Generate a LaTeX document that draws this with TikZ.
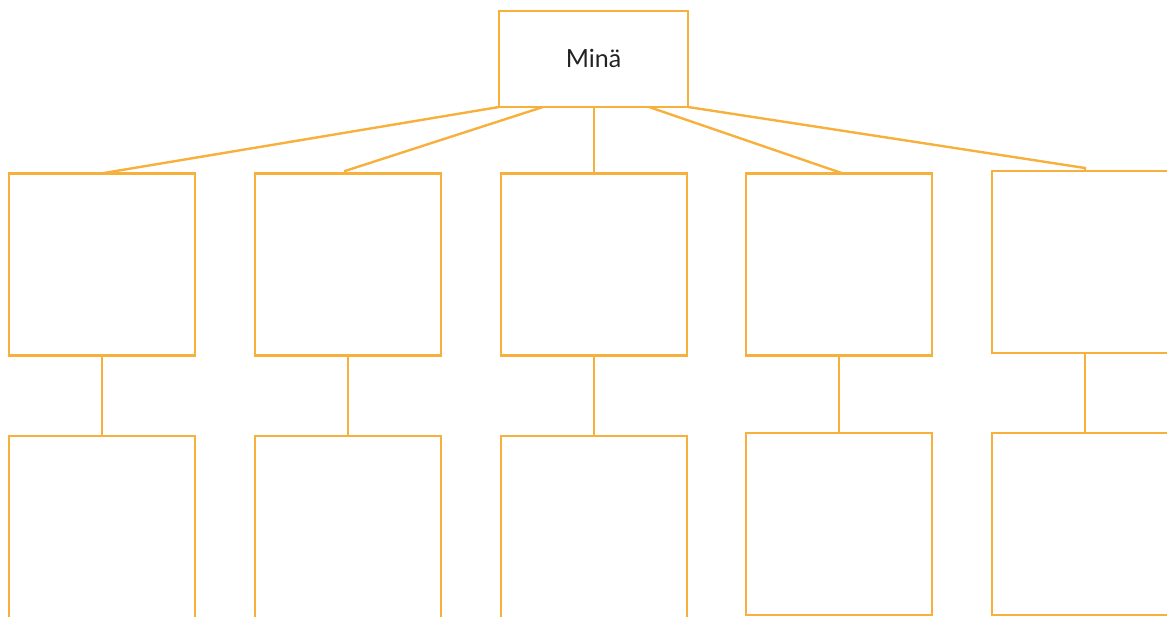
\documentclass[tikz,border=0pt]{standalone}
\usepackage{fontspec}
\setmainfont{Lato}
\definecolor{boxorange}{RGB}{248,176,60}
\definecolor{txtgray}{RGB}{34,34,34}
\begin{document}
\begin{tikzpicture}[x=1pt,y=-1pt,
  box/.style={draw=boxorange,line width=2.4pt,rectangle,inner sep=0pt,outer sep=0pt,minimum width=186pt,minimum height=182pt},
  topbox/.style={draw=boxorange,line width=2.4pt,rectangle,inner sep=0pt,outer sep=0pt,minimum width=189pt,minimum height=96pt,text=txtgray,font=\fontsize{25}{30}\selectfont},
  link/.style={draw=boxorange,line width=2.4pt}]
\useasboundingbox (0,0) rectangle (1167,616);
\clip (0,0) rectangle (1167,616);
\node[topbox] (top) at (593.5,59) {\raisebox{2pt}{Minä}};
\node[box] (a1) at (102,264.5) {};
\node[box] (a2) at (348,264.5) {};
\node[box] (a3) at (594,264.5) {};
\node[box] (a4) at (839,264.5) {};
\node[box] (a5) at (1085,262) {};
\node[box] (b1) at (102,527) {};
\node[box] (b2) at (348,527) {};
\node[box] (b3) at (594,527) {};
\node[box] (b4) at (839,524) {};
\node[box] (b5) at (1085,524) {};
\draw[link] (top.south west) -- ([xshift=-1pt]a1.north);
\draw[link] ([xshift=-50.5pt]top.south) -- ([xshift=-3pt,yshift=2.5pt]a2.north) -- ([xshift=-3pt]a2.north);
\draw[link] (top.south -| a3.north) -- (a3.north);
\draw[link] ([xshift=55.5pt]top.south) -- ([xshift=4pt]a4.north);
\draw[link] (top.south east) -- ([yshift=3pt]a5.north) -- (a5.north);
\draw[link] (a1.south) -- (b1.north);
\draw[link] (a2.south) -- (b2.north);
\draw[link] (a3.south) -- (b3.north);
\draw[link] (a4.south) -- (b4.north);
\draw[link] (a5.south) -- (b5.north);
\end{tikzpicture}
\end{document}
